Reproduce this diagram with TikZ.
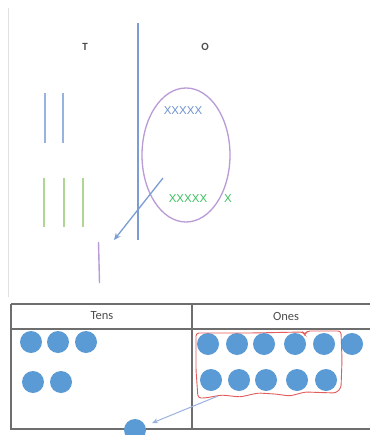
\documentclass[tikz,border=0pt]{standalone}
\usepackage{fontspec}
\setmainfont{Carlito}
\newfontfamily\xfont{Liberation Sans}
\usetikzlibrary{arrows.meta,shapes.geometric}
\definecolor{dotblue}{HTML}{5B9BD5}
\definecolor{lineblue}{HTML}{9AB3DE}
\definecolor{darkline}{HTML}{7C9DD3}
\definecolor{lgreen}{HTML}{B0D696}
\definecolor{xgreen}{HTML}{3CC060}
\definecolor{xblue}{HTML}{6F93D0}
\definecolor{lpurple}{HTML}{B99BD6}
\definecolor{tablegray}{HTML}{6E6E6E}
\definecolor{redline}{HTML}{E25C5C}
\tikzset{
  dot/.style={circle, fill=dotblue, draw=none, minimum size=22pt, inner sep=0pt},
  tally/.style={line width=1.4pt},
  lbl/.style={font=\fontsize{12.5}{14}\selectfont, text=black!70},
  hdr/.style={font=\bfseries\fontsize{11}{12}\selectfont, text=black!70},
  xs/.style={font=\xfont\fontsize{11.5}{12}\selectfont, inner sep=0pt},
}
\begin{document}
\begin{tikzpicture}[x=1pt,y=-1pt]
\useasboundingbox (0,0) rectangle (369,435);
\fill[white] (0,0) rectangle (369,435);
% faint frame line at left
\draw[black!12, line width=0.6pt] (8,8) -- (8,297);
% headers
\node[hdr] (T) at (85,47) {T};
\node[hdr] (O) at (205,47) {O};
% divider
\draw[darkline, line width=1.6pt] (138,23) -- (138,240);
% tens tallies
\draw[lineblue, tally] (45,93) -- (45,143);
\draw[lineblue, tally] (63,93) -- (63,143);
\draw[lgreen, tally] (44,178) -- (44,227);
\draw[lgreen, tally] (64,178) -- (64,227);
\draw[lgreen, tally] (83,178) -- (83,227);
% ellipse
\node[draw=lpurple, line width=1.3pt, ellipse, minimum width=88pt, minimum height=134pt, inner sep=0pt] (ell) at (186,155) {};
\node[xs, text=xblue] (xb) at (183,111) {XXXXX};
\node[xs, text=xgreen] (xg) at (188,199) {XXXXX};
\node[xs, text=xgreen] (x1) at (228,199) {X};
% arrow
\coordinate (a1) at (163,178);
\coordinate (a2) at (114,240);
\draw[darkline, line width=1.3pt, -{Stealth[length=7pt,width=6pt]}] (a1) -- (a2);
% new ten
\draw[lpurple, tally] (98.5,242) -- (99.5,283);
% table
\draw[tablegray, line width=1.3pt] (11,304) -- (375,304);
\draw[tablegray, line width=1.3pt] (11,329) -- (375,329);
\draw[tablegray, line width=1.3pt] (11,304) -- (11,429) -- (375,429);
\draw[tablegray, line width=1.3pt] (192,304) -- (192,429);
\node[lbl] (tens) at (102,316) {Tens};
\node[lbl] (ones) at (286,316) {Ones};
% tens dots
\node[dot] (t1) at (31,342) {};
\node[dot] (t2) at (58,342) {};
\node[dot] (t3) at (86,342) {};
\node[dot] (t4) at (33,382) {};
\node[dot] (t5) at (61,382) {};
% ones dots
\node[dot] (o1) at (208,344) {};
\node[dot] (o2) at (237,344) {};
\node[dot] (o3) at (264,344) {};
\node[dot] (o4) at (295,344) {};
\node[dot] (o5) at (324,344) {};
\node[dot] (o6) at (352,344) {};
\node[dot] (o7) at (211,380) {};
\node[dot] (o8) at (239,380) {};
\node[dot] (o9) at (266,380) {};
\node[dot] (o10) at (297,380) {};
\node[dot] (o11) at (326,380) {};
% red freehand loop
\draw[redline, line width=0.9pt, rounded corners=3pt]
  (196,333) -- (250,333) -- (303,332) -- (305,335) -- (307,331) -- (341,331)
  -- (342,360) -- (341,388) -- (336,393) -- (305,392) -- (290,396) -- (275,394)
  -- (258,393) -- (240,397) -- (222,395) -- (205,398) -- (198,398) -- (196,370) -- cycle;
% carried dot
\node[dot] (c) at (135,430) {};
\coordinate (b1) at (218,396);
\coordinate (b2) at (152,423);
\draw[lineblue, line width=1pt, -{Stealth[length=6pt,width=5pt]}] (b1) -- (b2);
\end{tikzpicture}
\end{document}
